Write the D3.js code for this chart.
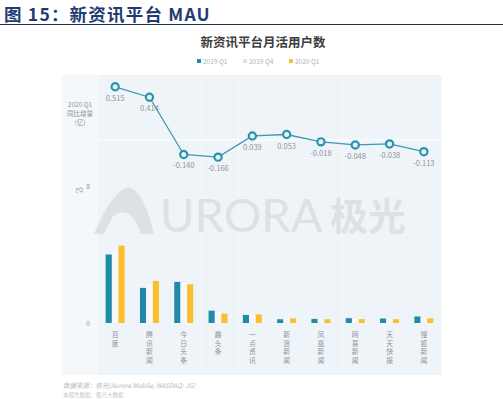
<!DOCTYPE html>
<html>
<head>
<meta charset="utf-8">
<script src="https://cdn.jsdelivr.net/npm/d3@7"></script>
<style>
  body { margin: 0; background: #fff; }
  svg { display: block; font-family: "Noto Sans CJK SC", "Noto Sans", sans-serif; }
</style>
</head>
<body>
<script>
// data
var categories = ["百度", "腾讯新闻", "今日头条", "趣头条", "一点资讯", "新浪新闻", "凤凰新闻", "网易新闻", "天天快报", "搜狐新闻"];
var mau2019Q1 = [4.00, 2.05, 2.40, 0.72, 0.47, 0.22, 0.24, 0.28, 0.26, 0.38];
var mau2019Q4 = [4.30, 2.30, 2.35, 0.65, 0.50, 0.26, 0.23, 0.25, 0.24, 0.30];
var mau2020Q1 = [4.52, 2.46, 2.26, 0.55, 0.51, 0.27, 0.22, 0.23, 0.22, 0.27];
var yoyDelta  = [0.515, 0.414, -0.140, -0.166, 0.039, 0.053, -0.018, -0.048, -0.038, -0.113];
var seriesNames = ["2019 Q1", "2019 Q4", "2020 Q1"];
var seriesColors = ["#1e8ca6", "#f6f8fa", "#fbbf2e"];
var legendColors = ["#1e8ca6", "#dfe4e9", "#fbbf2e"];
var barTicks = [0, 8];

var W = 503, H = 399;
var svg = d3.select("body").append("svg")
    .attr("width", W)
    .attr("height", H);

// page heading
svg.append("text")
    .attr("x", 4).attr("y", 20.5)
    .attr("fill", "#1f3c72")
    .attr("font-size", 17.5).attr("font-weight", "bold").attr("letter-spacing", 1.2)
    .text("图 15：新资讯平台 MAU");
svg.append("line")
    .attr("x1", 0).attr("x2", W).attr("y1", 24.5).attr("y2", 24.5)
    .attr("stroke", "#1d2f4a").attr("stroke-width", 1.2);

// chart title + legend
svg.append("text")
    .attr("x", 263).attr("y", 47)
    .attr("text-anchor", "middle")
    .attr("fill", "#3d3d3d").attr("font-size", 12.5).attr("font-weight", "bold")
    .text("新资讯平台月活用户数");

var legend = svg.append("g").attr("transform", "translate(197,62)");
seriesNames.forEach(function(n, i) {
  var g = legend.append("g").attr("transform", "translate(" + (i * 46) + ",0)");
  g.append("rect").attr("x", 0).attr("y", -3).attr("width", 4).attr("height", 4).attr("fill", legendColors[i]);
  g.append("text").attr("x", 6).attr("y", 1.5).attr("font-size", 6.5).attr("fill", "#aab2ba").text(n);
});

// background panels
svg.append("rect").attr("x", 62).attr("y", 75).attr("width", 380).attr("height", 300).attr("fill", "#f5f8fb");
svg.append("rect").attr("x", 98).attr("y", 75).attr("width", 343).attr("height", 300).attr("fill", "#eff4f9");
[202, 238, 342].forEach(function(x) {
  svg.append("line").attr("x1", x).attr("x2", x).attr("y1", 75).attr("y2", 375)
     .attr("stroke", "#f6f9fc").attr("stroke-width", 1);
});

// watermark
var wm = svg.append("g").attr("fill", "#dde1e6");
wm.append("path")
  .attr("d", "M94,234 C104,212 114,192 128,187 C141,189 149,214 154,234 L141,234 C136,217 126,207 113,216 L104,234 Z");
wm.append("text").attr("x", 160).attr("y", 232).attr("font-size", 47)
  .attr("font-family", "Lato, 'Open Sans', sans-serif")
  .text("URORA");
wm.append("text").attr("x", 330).attr("y", 230).attr("font-size", 38).attr("font-weight", "bold").text("极光");

// scales
var x = d3.scaleBand().domain(categories).range([98, 441]);
var yLine = d3.scaleLinear().domain([-0.3, 0.6]).range([171, 78]);
var yBar = d3.scaleLinear().domain([0, 8]).range([323, 186]);
var sub = d3.scaleBand().domain(seriesNames).range([-9.5, 9.5]).paddingInner(0.05);

// zero gridline of the line chart
svg.append("line")
    .attr("x1", 98).attr("x2", 441).attr("y1", yLine(0)).attr("y2", yLine(0))
    .attr("stroke", "#ffffff").attr("stroke-width", 1);

// line chart label
["2020 Q1", "同比增量", "(亿)"].forEach(function(t, i) {
  svg.append("text")
      .attr("x", 80).attr("y", 107 + i * 9)
      .attr("text-anchor", "middle").attr("font-size", 6.5).attr("fill", "#8a9299")
      .text(t);
});

var pts = categories.map(function(c, i) { return [x(c) + x.bandwidth() / 2, yLine(yoyDelta[i])]; });

svg.append("path")
    .datum(pts)
    .attr("d", d3.line())
    .attr("fill", "none").attr("stroke", "#3a9bb3").attr("stroke-width", 1.3);

svg.selectAll("circle.pt").data(pts).enter().append("circle")
    .attr("class", "pt")
    .attr("cx", function(d) { return d[0]; })
    .attr("cy", function(d) { return d[1]; })
    .attr("r", 3.6)
    .attr("fill", "#e6f2f6").attr("stroke", "#2a94ae").attr("stroke-width", 2.2);

svg.selectAll("text.val").data(pts).enter().append("text")
    .attr("class", "val")
    .attr("x", function(d) { return d[0]; })
    .attr("y", function(d) { return d[1] + 14; })
    .attr("text-anchor", "middle").attr("font-size", 7.5).attr("fill", "#8d949a")
    .text(function(d, i) { return yoyDelta[i].toFixed(3); });

// bar chart axis labels
svg.append("text")
    .attr("transform", "translate(77,190) rotate(90)")
    .attr("text-anchor", "middle").attr("font-size", 6.5).attr("fill", "#8a9299")
    .text("亿");
svg.selectAll("text.tick").data(barTicks).enter().append("text")
    .attr("class", "tick")
    .attr("x", 88).attr("y", function(d) { return yBar(d) + 2.5; })
    .attr("text-anchor", "middle").attr("font-size", 6.5).attr("fill", "#8a9299")
    .text(function(d) { return d; });

// bars
var series = [mau2019Q1, mau2019Q4, mau2020Q1];
var groups = svg.selectAll("g.cat").data(categories).enter().append("g")
    .attr("class", "cat")
    .attr("transform", function(d) { return "translate(" + (x(d) + x.bandwidth() / 2) + ",0)"; });

groups.selectAll("rect").data(function(d, i) {
    return series.map(function(s, k) { return { k: k, v: s[i] }; });
  }).enter().append("rect")
    .attr("x", function(d) { return sub(seriesNames[d.k]); })
    .attr("width", sub.bandwidth())
    .attr("y", function(d) { return yBar(d.v); })
    .attr("height", function(d) { return yBar(0) - yBar(d.v); })
    .attr("fill", function(d) { return seriesColors[d.k]; });

// vertical category labels, one char per text
groups.selectAll("text.lbl").data(function(d) { return d.split(""); }).enter().append("text")
    .attr("class", "lbl")
    .attr("x", 0).attr("y", function(d, i) { return 337 + i * 8.5; })
    .attr("text-anchor", "middle").attr("font-size", 6.8).attr("fill", "#8d949a")
    .text(function(d) { return d; });

// source
svg.append("text")
    .attr("x", 63).attr("y", 388)
    .attr("font-size", 6.5).attr("fill", "#b4b9be").attr("font-style", "italic")
    .text("数据来源：极光(Aurora Mobile, NASDAQ: JG)");
svg.append("text")
    .attr("x", 63).attr("y", 397)
    .attr("font-size", 5.5).attr("fill", "#c4c8cc")
    .text("本报告数据：极光大数据");
</script>
</body>
</html>
